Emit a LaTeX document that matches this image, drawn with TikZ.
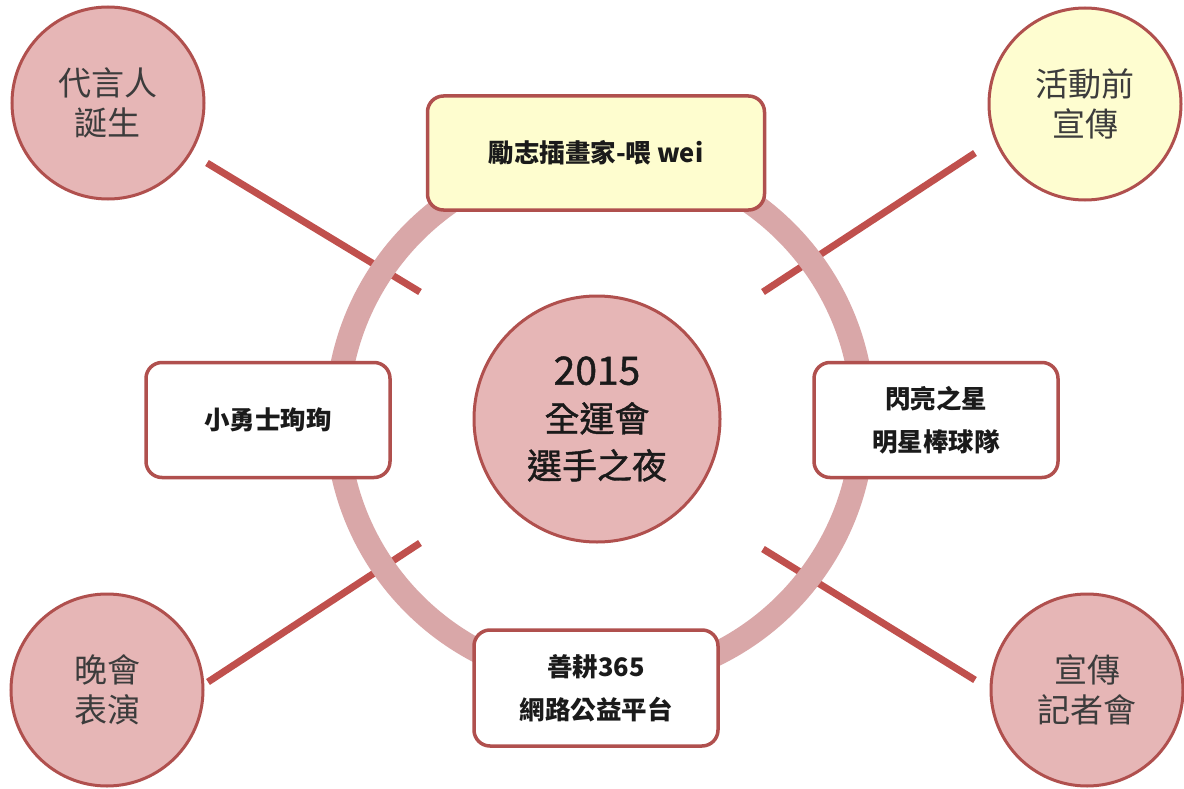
\documentclass[tikz,border=0pt]{standalone}
\usepackage{fontspec}
\setmainfont{Noto Sans CJK TC}
\newfontfamily\hubfont{Noto Sans CJK TC}[FakeBold=1.2]
\definecolor{linec}{HTML}{C0504D}
\definecolor{borderc}{HTML}{B0504E}
\definecolor{ringc}{HTML}{D9A7A8}
\definecolor{pinkf}{HTML}{E6B6B6}
\definecolor{yellowf}{HTML}{FEFDD0}
\definecolor{boxyellow}{HTML}{FEFDCF}
\definecolor{txt}{HTML}{1A1A1A}
\tikzset{
  corner/.style={circle, draw=borderc, line width=3pt, minimum size=192pt, inner sep=0pt,
    align=center, text=txt!85, font=\fontsize{33}{40}\selectfont},
  hub/.style={circle, draw=borderc, line width=3pt, fill=pinkf, minimum size=246pt, inner sep=0pt,
    align=center, text=txt, font=\hubfont\fontsize{35}{47}\selectfont},
  itembox/.style={rectangle, rounded corners=16pt, draw=borderc, line width=3.5pt, fill=white,
    minimum width=244pt, minimum height=115pt, inner sep=0pt, align=center, text=txt,
    font=\fontsize{25.5}{43}\selectfont\bfseries},
  spoke/.style={draw=linec, line width=7pt},
  ringstyle/.style={circle, draw=ringc, line width=24pt, minimum size=526pt, inner sep=0pt}
}
\begin{document}
\begin{tikzpicture}[x=1pt,y=-1pt]
\useasboundingbox (0,0) rectangle (1184,789);
\fill[white] (0,0) rectangle (1184,789);
% spokes
\coordinate (tl1) at (207,163); \coordinate (tl2) at (420,292);
\coordinate (tr1) at (975,153); \coordinate (tr2) at (763,292);
\coordinate (bl1) at (208,682); \coordinate (bl2) at (420,543);
\coordinate (br1) at (975,680); \coordinate (br2) at (763,549);
\draw[spoke] (tl1) -- (tl2);
\draw[spoke] (tr1) -- (tr2);
\draw[spoke] (bl1) -- (bl2);
\draw[spoke] (br1) -- (br2);
% ring
\node[ringstyle] (ring) at (600,418) {};
% hub
\node[hub] (hub) at (597,419) {{\fontsize{39}{47}\selectfont 2015}\\全運會\\選手之夜};
% boxes
\node[itembox, fill=boxyellow, minimum width=337pt, minimum height=114pt] (top) at (596,153) {勵志插畫家-喂 wei};
\node[itembox] (left) at (268,420) {小勇士珣珣};
\node[itembox] (right) at (936,420) {閃亮之星\\明星棒球隊};
\node[itembox, minimum height=116pt] (bottom) at (596,688) {善耕365\\網路公益平台};
% corner circles
\node[corner, fill=pinkf] (c1) at (108,103) {代言人\\誕生};
\node[corner, fill=yellowf] (c2) at (1085,104) {活動前\\宣傳};
\node[corner, fill=pinkf] (c3) at (107,690) {晚會\\表演};
\node[corner, fill=pinkf] (c4) at (1087,690) {宣傳\\記者會};
\end{tikzpicture}
\end{document}
